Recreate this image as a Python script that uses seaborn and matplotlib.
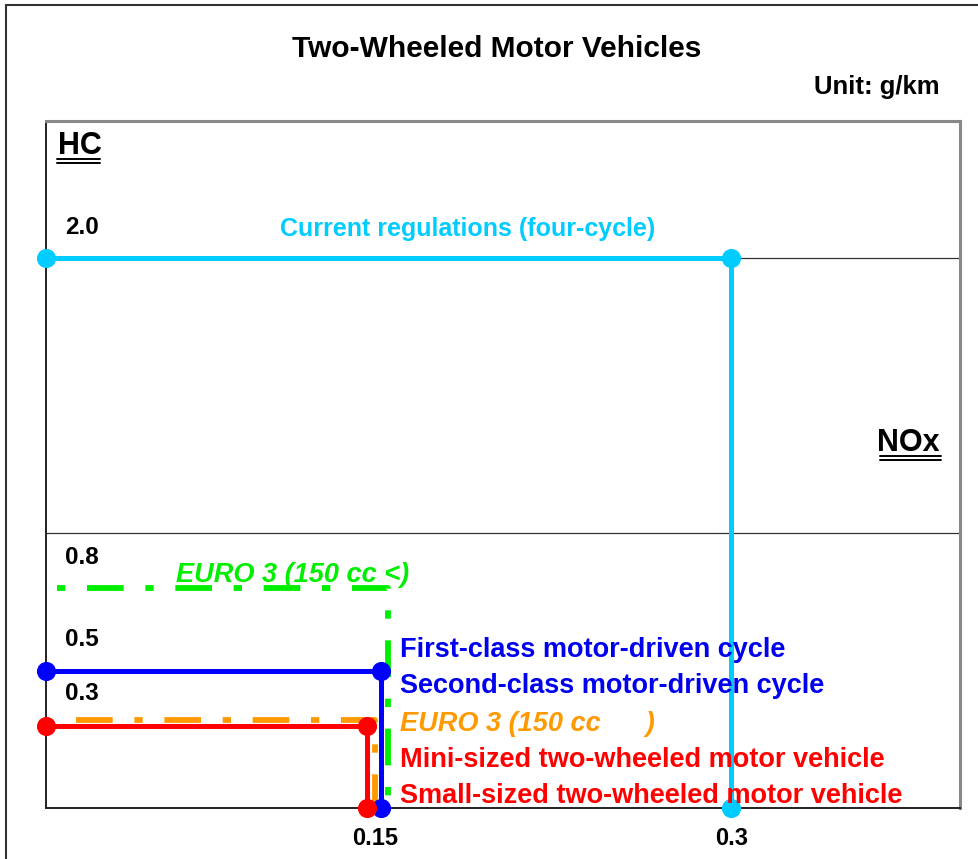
import matplotlib
matplotlib.use("Agg")
import matplotlib.pyplot as plt
import seaborn as sns
import pandas as pd
from matplotlib.patches import Rectangle
from matplotlib.lines import Line2D

sns.set_theme(style="white")
plt.rcParams['font.family'] = ['Liberation Sans', 'DejaVu Sans']
plt.rcParams['lines.scale_dashes'] = False
plt.rcParams['text.color'] = 'black'
plt.rcParams['xtick.color'] = 'black'

# ---- data (g/km) ----
series = ["Current regulations", "EURO 3 (150 cc <)", "First/Second-class",
          "EURO 3 (150 cc >)", "Mini/Small-sized"]
nox_start = [0.0, 0.005, 0.0, 0.013, 0.0]
nox_limit = [0.300, 0.1495, 0.1465, 0.1439, 0.1404]
hc_limit = [2.0, 0.8, 0.5, 0.32, 0.3]
colors = ["#00CCFF", "#00EE00", "#0000FF", "#FF9900", "#FF0000"]
dashed = [False, True, False, True, False]
hc_tick_labels = ["2.0", "0.8", "0.5", "0.3"]
hc_tick_values = [2.0, 0.8, 0.5, 0.3]
nox_tick_labels = ["0.15", "0.3"]
nox_tick_values = [0.144, 0.300]

fig = plt.figure(figsize=(9.79, 8.59), dpi=100)
ax = fig.add_axes([46/979, 1-808/859, (960-46)/979, (808-121)/859])

for i, name in enumerate(series):
    df = pd.DataFrame({"x": [nox_start[i], nox_limit[i], nox_limit[i]],
                       "y": [hc_limit[i], hc_limit[i], 0.0]})
    sns.lineplot(data=df, x="x", y="y", sort=False, estimator=None, ax=ax,
                 color=colors[i], linewidth=4.2 if dashed[i] else 3.6, zorder=3)
    ln = ax.lines[-1]
    ln.set_clip_on(False)
    if dashed[i]:
        if i == 1:
            ln.set_linestyle((0, (6, 15.6, 26.4, 15.6)))
        else:
            ln.set_linestyle((0, (26.4, 15.6, 6, 15.6)))
        ln.set_dash_capstyle("butt")
    else:
        sns.scatterplot(data=df, x="x", y="y", ax=ax, color=colors[i], s=190,
                        linewidth=0, zorder=4, clip_on=False, legend=False)

ax.set_xlim(0, 0.4)
ax.set_ylim(0, 2.5)
ax.set_xlabel("")
ax.set_ylabel("")
ax.set_yticks([])
ax.set_xticks(nox_tick_values)
ax.set_xticklabels(nox_tick_labels, fontsize=17, fontweight="bold", color="black")
ax.tick_params(axis="x", length=0, pad=14)

# gridlines
for g in [1.0, 2.0]:
    ax.axhline(g, color="#333333", linewidth=0.9, zorder=1)

for s in ["left", "bottom"]:
    ax.spines[s].set_color("#222222")
    ax.spines[s].set_linewidth(1.4)
for s in ["top", "right"]:
    ax.spines[s].set_color("#888888")
    ax.spines[s].set_linewidth(2.2)

# value labels on HC axis
for lab, v, py in zip(hc_tick_labels, hc_tick_values, [227, 558, 640, 694]):
    ax.text(0.0085, (808-py)/274.8, lab, fontsize=17.5, fontweight="bold",
            ha="left", va="center", color="black")

def px2d(px, py):
    return (px-46)/2287.0, (808-py)/274.8

x, y = px2d(468, 229)
ax.text(x, y, "Current regulations (four-cycle)", color="#00CCFF", fontsize=18,
        fontweight="bold", ha="center", va="center")
x, y = px2d(176, 575)
ax.text(x, y, "EURO 3 (150 cc <)", color="#00EE00", fontsize=19.5,
        fontweight="bold", style="italic", ha="left", va="center")
labels_right = [("First-class motor-driven cycle", "#0000EE", 650, "normal"),
                ("Second-class motor-driven cycle", "#0000EE", 686, "normal"),
                ("EURO 3 (150 cc      )", "#FF9900", 724, "italic"),
                ("Mini-sized two-wheeled motor vehicle", "#FF0000", 760, "normal"),
                ("Small-sized two-wheeled motor vehicle", "#FF0000", 796, "normal")]
for txt, c, py, st in labels_right:
    x, y = px2d(400, py)
    ax.text(x, y, txt, color=c, fontsize=19.5, fontweight="bold", style=st,
            ha="left", va="center", zorder=5)

# axis names with double underline
x, y = px2d(58, 146)
ax.text(x, y, "HC", fontsize=22, fontweight="bold", ha="left", va="center")
x, y = px2d(940, 443)
ax.text(x, y, "NOx", fontsize=22, fontweight="bold", ha="right", va="center")
for (x0, x1, yy) in [(57, 100, 159), (57, 100, 163), (880, 941, 456), (880, 941, 460)]:
    fig.add_artist(Line2D([x0/979, x1/979], [1-yy/859, 1-yy/859], color="black",
                          linewidth=1.4))

fig.text(497/979, 1-49/859, "Two-Wheeled Motor Vehicles", fontsize=21.5,
         fontweight="bold", ha="center", va="center")
fig.text(940/979, 1-87/859, "Unit: g/km", fontsize=18.5, fontweight="bold",
         ha="right", va="center")

# outer frame
fig.add_artist(Rectangle((6/979, -0.05), 1.2, 1-5/859+0.05, transform=fig.transFigure,
                         fill=False, edgecolor="#333333", linewidth=1.5))

fig.savefig("out.png", dpi=100)
